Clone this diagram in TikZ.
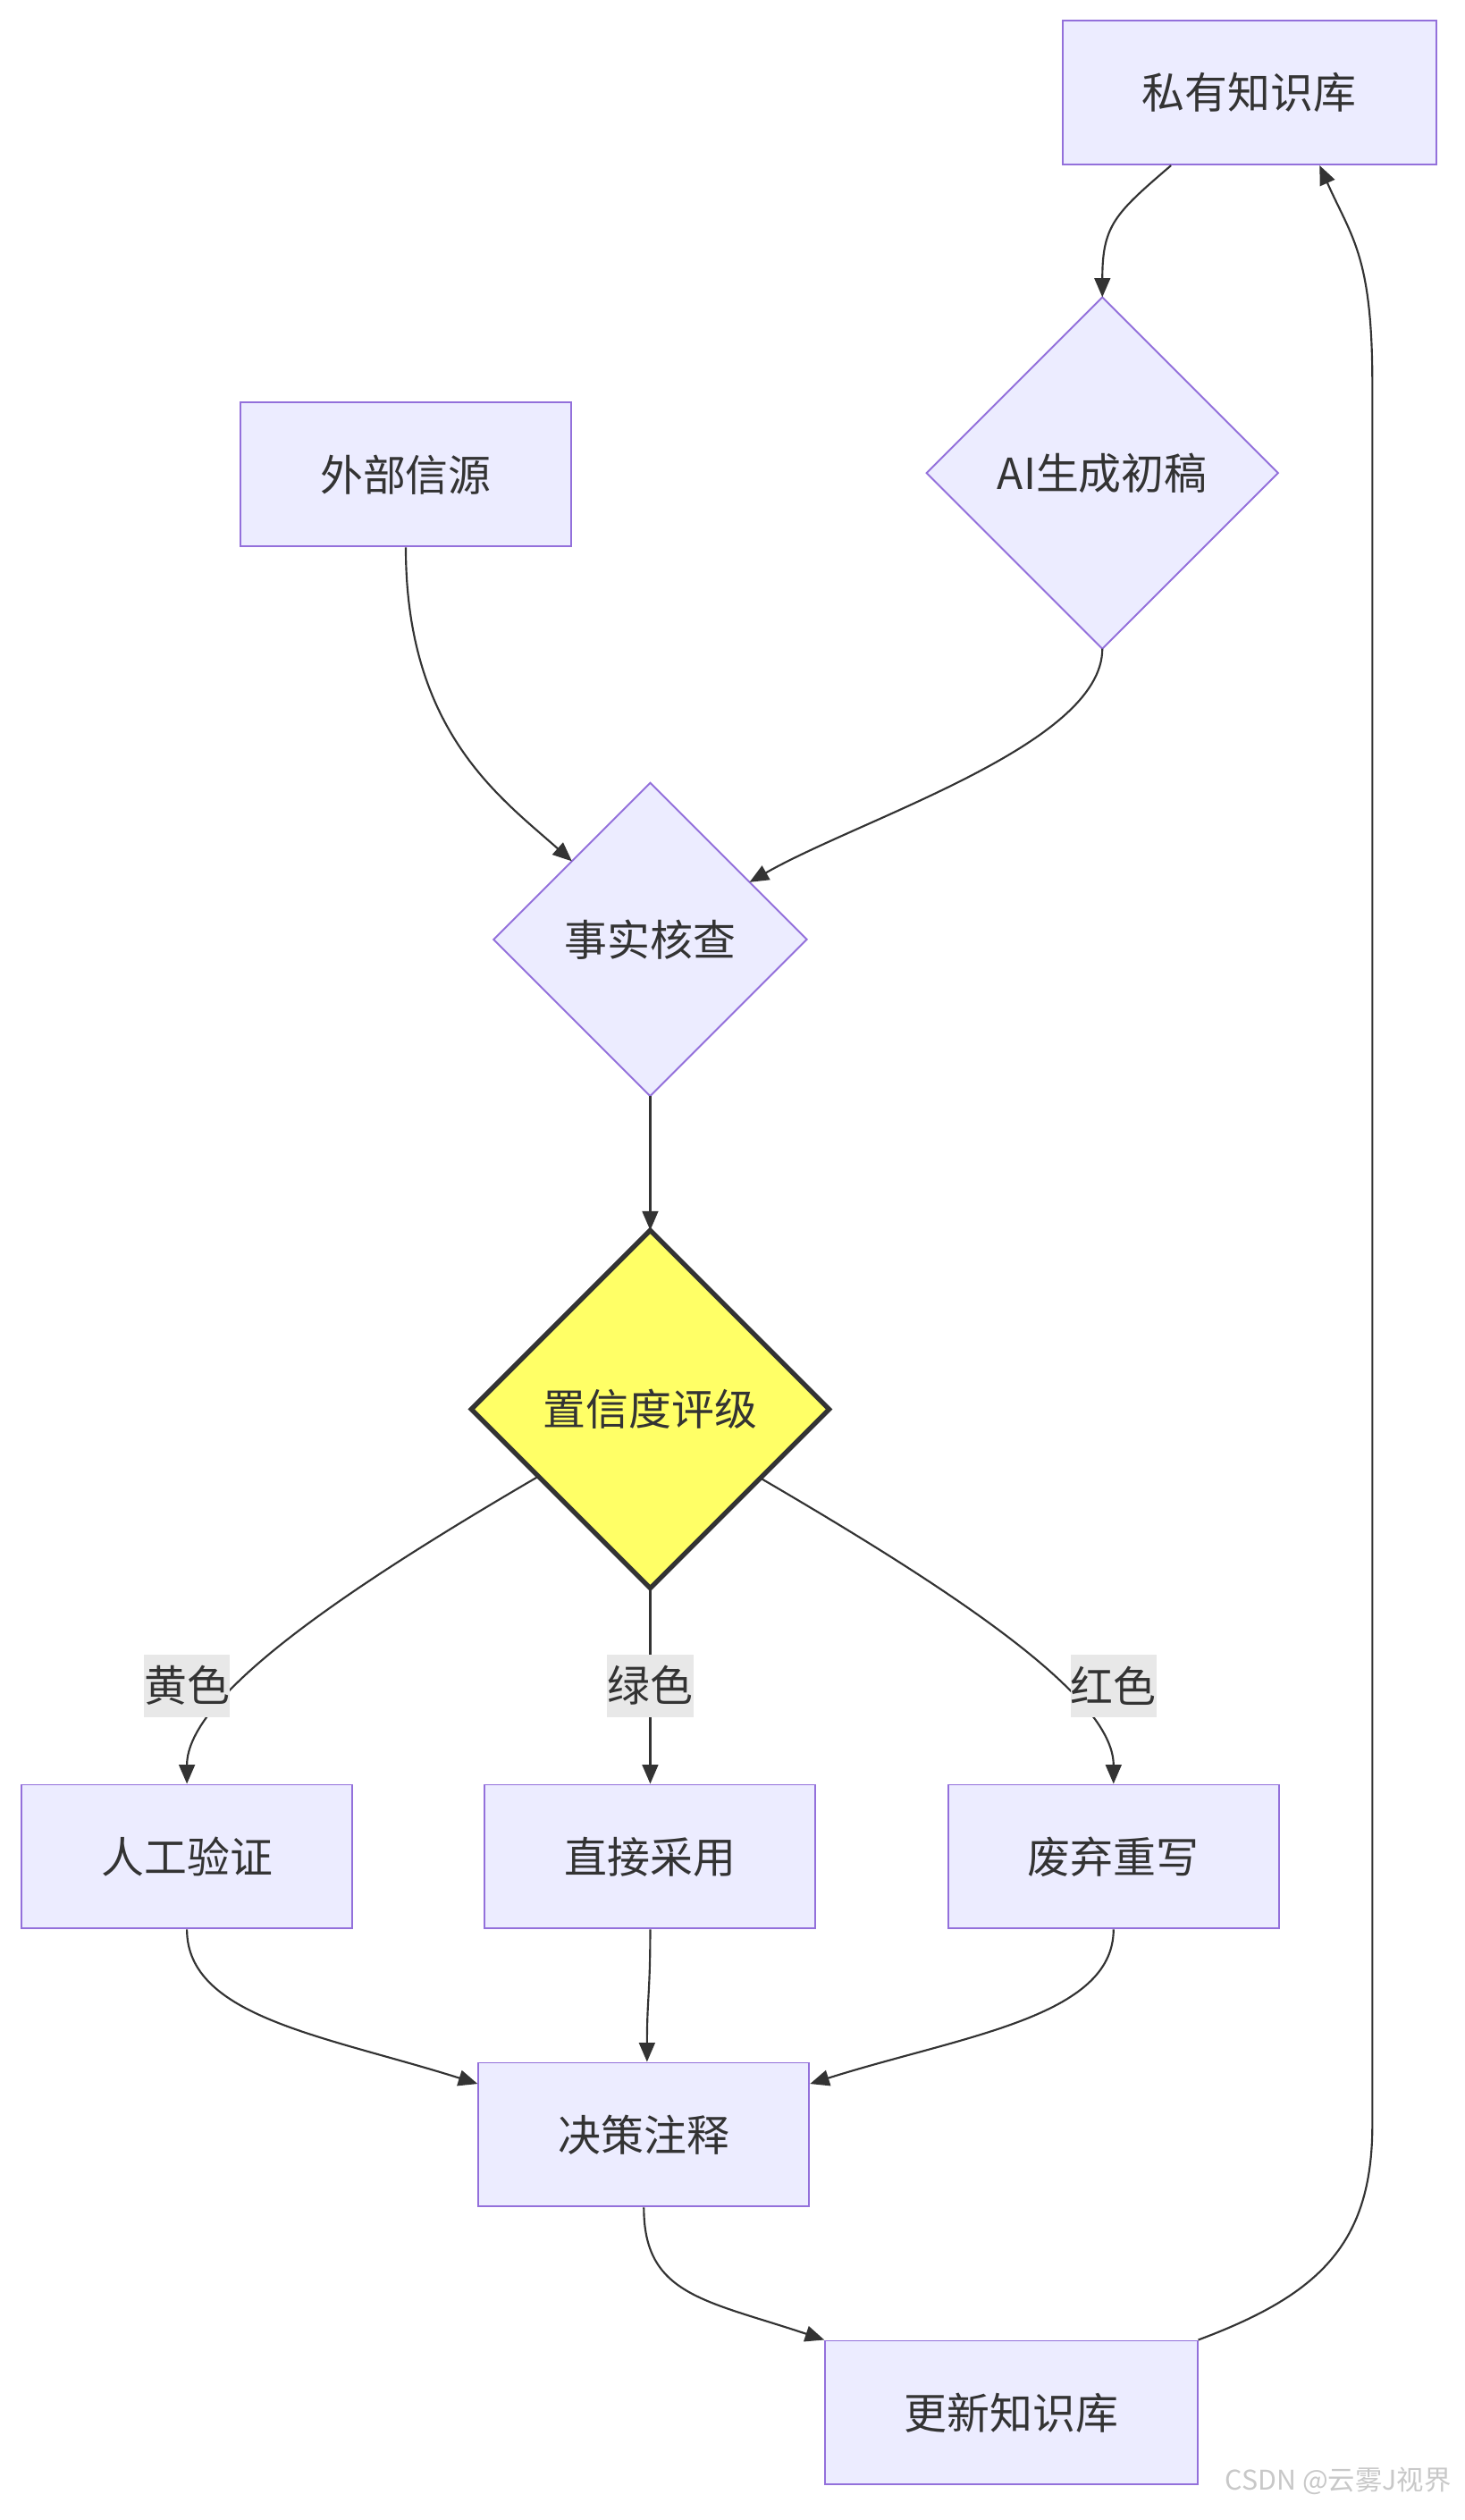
\documentclass[tikz,border=0pt]{standalone}
\usepackage{fontspec}
\setmainfont{Noto Sans CJK SC}
\usetikzlibrary{shapes.geometric,arrows.meta}

\definecolor{boxfill}{RGB}{236,236,255}
\definecolor{boxline}{RGB}{147,112,219}
\definecolor{txt}{RGB}{51,51,51}
\definecolor{gradeyellow}{RGB}{255,255,102}
\definecolor{labelbg}{RGB}{232,232,232}
\definecolor{markgray}{RGB}{200,200,200}

\tikzset{
  flowbox/.style={draw=boxline, fill=boxfill, line width=1.1pt, minimum width=207pt, minimum height=90pt, inner sep=0pt, text=txt, font=\fontsize{26.8}{30}\selectfont},
  flowdiamond/.style={diamond, aspect=1, draw=boxline, fill=boxfill, line width=1.1pt, inner sep=0pt, outer sep=0pt, text=txt, font=\fontsize{26.8}{30}\selectfont},
  gradediamond/.style={flowdiamond, draw=txt, fill=gradeyellow, line width=3pt},
  edgelabel/.style={fill=labelbg, minimum width=54pt, minimum height=39pt, inner sep=0pt, text=txt, font=\fontsize{26.8}{30}\selectfont},
  flow/.style={draw=txt, line width=1.2pt, -{Triangle[length=12pt,width=10pt]}},
}

\begin{document}
\begin{tikzpicture}[x=1pt,y=1pt,yscale=-1,xscale=1]
\useasboundingbox (0,0) rectangle (917,1577.2);

%Shape: Rectangle [id:pk]
\node[flowbox, minimum width=234pt] (pk) at (782,58) {私有知识库};
%Shape: Rectangle [id:ext]
\node[flowbox] (ext) at (254,297) {外部信源};
%Shape: Diamond [id:ai]
\node[flowdiamond, minimum width=220pt, minimum height=220pt] (ai) at (690,296) {AI生成初稿};
%Shape: Diamond [id:fc]
\node[flowdiamond, minimum width=196pt, minimum height=196pt] (fc) at (407,588) {事实核查};
%Shape: Diamond [id:cr]
\node[gradediamond, minimum width=224pt, minimum height=224pt] (cr) at (407,882) {置信度评级};
%Shape: Rectangle [id:hv]
\node[flowbox] (hv) at (117,1162) {人工验证};
%Shape: Rectangle [id:ad]
\node[flowbox] (ad) at (407,1162) {直接采用};
%Shape: Rectangle [id:rw]
\node[flowbox] (rw) at (697,1162) {废弃重写};
%Shape: Rectangle [id:dc]
\node[flowbox] (dc) at (403,1336) {决策注释};
%Shape: Rectangle [id:un]
\node[flowbox, minimum width=233pt] (un) at (633,1510) {更新知识库};

%Curve Lines [id:pk-ai]
\draw[flow] ([xshift=-49pt]pk.south) .. controls +(-35,30) and +(0,-45) .. (ai.north);
%Curve Lines [id:ext-fc]
\draw[flow] (ext.south) .. controls +(0,115) and +(-45,-40) .. (fc.north west);
%Curve Lines [id:ai-fc]
\draw[flow] (ai.south) .. controls +(0,60) and +(70,-40) .. (fc.30);
%Straight Lines [id:fc-cr]
\draw[flow] (fc.south) -- (cr.north);
%Curve Lines [id:cr-hv]
\draw[flow] (cr.211.6) .. controls +(-120,70) and +(0,-55) .. (hv.north);
%Straight Lines [id:cr-ad]
\draw[flow] (cr.south) -- (ad.north);
%Curve Lines [id:cr-rw]
\draw[flow] (cr.328.4) .. controls +(120,70) and +(0,-55) .. (rw.north);
%Curve Lines [id:hv-dc]
\draw[flow] (hv.south) .. controls +(0,55) and +(-95,-30) .. (dc.163);
%Curve Lines [id:ad-dc]
\draw[flow] (ad.south) .. controls +(0,40) and +(0,-40) .. ([xshift=2pt]dc.north);
%Curve Lines [id:rw-dc]
\draw[flow] (rw.south) .. controls +(0,55) and +(95,-30) .. (dc.17);
%Curve Lines [id:dc-un]
\draw[flow] (dc.south) .. controls +(0,55) and +(-75,-25) .. (un.north west);
%Curve Lines [id:un-pk]
\draw[flow] (un.north east) .. controls +(75,-28) and +(0,75) .. (859,1330) -- (859,240) .. controls +(0,-80) and +(20,45) .. ([xshift=44pt]pk.south);

% Text Node
\node[edgelabel] (lyellow) at (117,1055) {黄色};
% Text Node
\node[edgelabel] (lgreen) at (407,1055) {绿色};
% Text Node
\node[edgelabel] (lred) at (697,1055) {红色};
% Text Node
\node[text=markgray, font=\fontsize{17}{19}\selectfont, anchor=east] (mark) at (912,1553) {CSDN @云雾J视界};

\end{tikzpicture}
\end{document}
